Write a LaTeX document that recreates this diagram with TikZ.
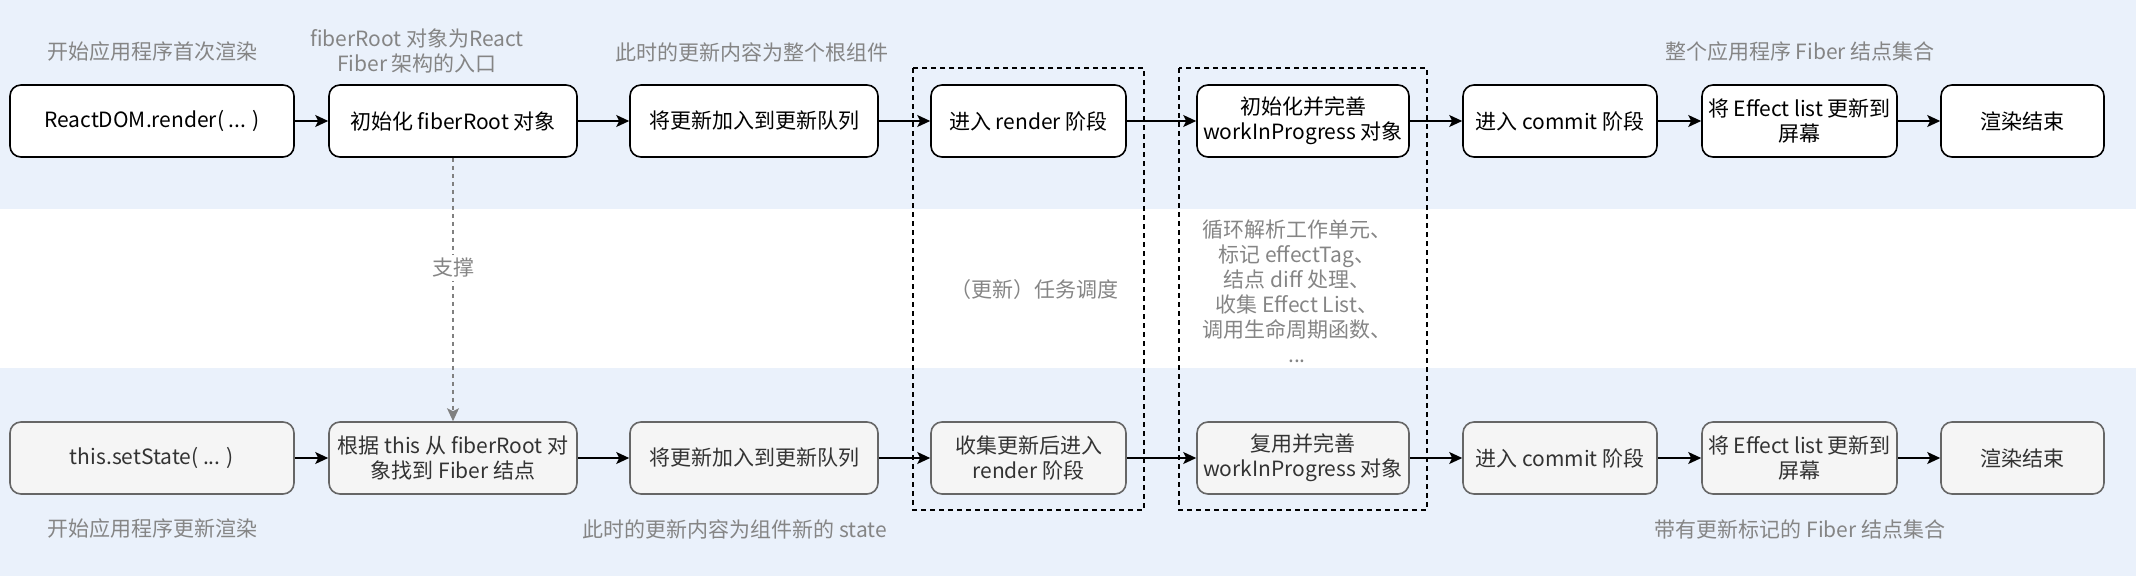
\documentclass[tikz,border=0pt]{standalone}
\usepackage{fontspec}
\setmainfont{Noto Sans CJK SC}
\usetikzlibrary{arrows.meta}
\definecolor{band}{RGB}{234,241,251}
\definecolor{lbl}{RGB}{133,133,133}
\definecolor{bfill}{RGB}{245,245,245}
\definecolor{bdraw}{RGB}{102,102,102}
\definecolor{btext}{RGB}{51,51,51}
\definecolor{garr}{RGB}{128,128,128}
\begin{document}
\begin{tikzpicture}[x=1pt,y=-1pt,
  box/.style={draw=black, fill=white, line width=1.6pt, rounded corners=11pt, align=center,
    inner sep=0pt, font=\fontsize{21}{25}\selectfont, minimum height=72pt},
  gbox/.style={box, draw=bdraw, fill=bfill, text=btext},
  lab/.style={text=lbl, align=center, inner sep=0pt, font=\fontsize{21}{25}\selectfont},
  flow/.style={draw=black, line width=1.6pt, -{Stealth[length=13pt,width=12pt,inset=3pt]}},
  gflow/.style={draw=garr, line width=1.4pt, dash pattern=on 4pt off 4pt, -{Stealth[length=13pt,width=12pt,inset=3pt]}},
  dbox/.style={draw=black, line width=1.6pt, dash pattern=on 5pt off 4pt}
]
\useasboundingbox (0,0) rectangle (2136,576);
% bands
\fill[band] (0,0) rectangle (2136,209);
\fill[band] (0,368) rectangle (2136,576);
% dashed groups
\draw[dbox] (913,68) rectangle (1144,510);
\draw[dbox] (1179,68) rectangle (1427,510);

% top row
\node[box, minimum width=284pt] (t1) at (152,121) {ReactDOM.render( ... )};
\node[box, minimum width=248pt] (t2) at (453,121) {初始化 fiberRoot 对象};
\node[box, minimum width=248pt] (t3) at (754,121) {将更新加入到更新队列};
\node[box, minimum width=195pt] (t4) at (1028.5,121) {进入 render 阶段};
\node[box, minimum width=212pt] (t5) at (1303,121) {初始化并完善\\workInProgress 对象};
\node[box, minimum width=194pt] (t6) at (1560,121) {进入 commit 阶段};
\node[box, minimum width=195pt] (t7) at (1799.5,121) {将 Effect list 更新到\\屏幕};
\node[box, minimum width=163pt] (t8) at (2022.5,121) {渲染结束};

% bottom row
\node[gbox, minimum width=284pt] (b1) at (152,458) {this.setState( ... )};
\node[gbox, minimum width=248pt] (b2) at (453,458) {根据 this 从 fiberRoot 对\\象找到 Fiber 结点};
\node[gbox, minimum width=248pt] (b3) at (754,458) {将更新加入到更新队列};
\node[gbox, minimum width=195pt] (b4) at (1028.5,458) {收集更新后进入\\render 阶段};
\node[gbox, minimum width=212pt] (b5) at (1303,458) {复用并完善\\workInProgress 对象};
\node[gbox, minimum width=194pt] (b6) at (1560,458) {进入 commit 阶段};
\node[gbox, minimum width=195pt] (b7) at (1799.5,458) {将 Effect list 更新到\\屏幕};
\node[gbox, minimum width=163pt] (b8) at (2022.5,458) {渲染结束};

% arrows
\foreach \a/\b in {t1/t2,t2/t3,t3/t4,t4/t5,t5/t6,t6/t7,t7/t8,b1/b2,b2/b3,b3/b4,b4/b5,b5/b6,b6/b7,b7/b8}
  \draw[flow] (\a) -- (\b);
\draw[gflow] (t2) -- (b2);

% labels
\node[lab] (l1) at (152,52) {开始应用程序首次渲染};
\node[lab] (l2) at (417,51) {fiberRoot 对象为React\\Fiber 架构的入口};
\node[lab] (l3) at (752,52) {此时的更新内容为整个根组件};
\node[lab] (l4) at (1800,52) {整个应用程序 Fiber 结点集合};
\node[lab, fill=white, inner ysep=3pt] (l5) at (453,268) {支撑};
\node[lab] (l6) at (1034,290) {（更新）任务调度};
\node[lab] (l7) at (1297,291) {循环解析工作单元、\\标记 effectTag、\\结点 diff 处理、\\收集 Effect List、\\调用生命周期函数、\\...};
\node[lab] (l8) at (152,529) {开始应用程序更新渲染};
\node[lab] (l9) at (735,529) {此时的更新内容为组件新的 state};
\node[lab] (l10) at (1800,529) {带有更新标记的 Fiber 结点集合};
\end{tikzpicture}
\end{document}
